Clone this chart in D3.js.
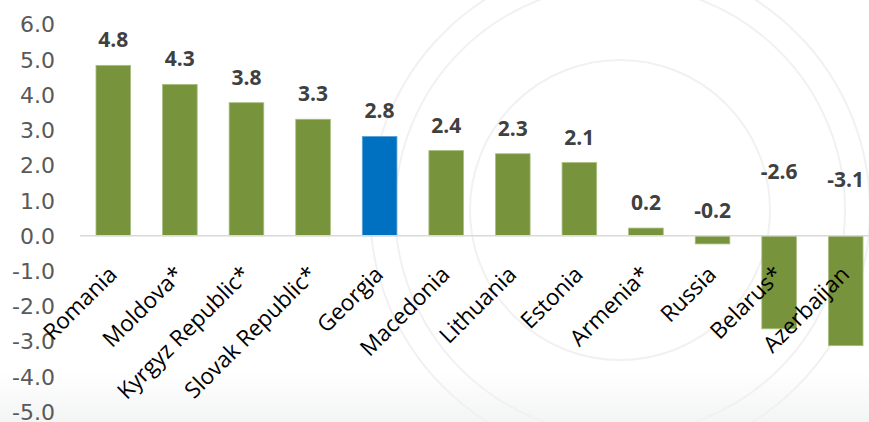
<!DOCTYPE html>
<html>
<head>
<meta charset="utf-8">
<script src="https://cdn.jsdelivr.net/npm/d3@7"></script>
<style>
  html, body { margin: 0; padding: 0; background: #ffffff; }
  svg { display: block; }
</style>
</head>
<body>
<svg id="chart" width="869" height="422"></svg>
<script>
// ---- data ----
const categories = ["Romania", "Moldova*", "Kyrgyz Republic*", "Slovak Republic*", "Georgia", "Macedonia", "Lithuania", "Estonia", "Armenia*", "Russia", "Belarus*", "Azerbaijan"];
const values = [4.84, 4.3, 3.78, 3.31, 2.82, 2.42, 2.33, 2.08, 0.22, -0.23, -2.64, -3.12];
const valueLabels = ["4.8", "4.3", "3.8", "3.3", "2.8", "2.4", "2.3", "2.1", "0.2", "-0.2", "-2.6", "-3.1"];
const highlight = "Georgia";
const yTicks = [6, 5, 4, 3, 2, 1, 0, -1, -2, -3, -4, -5];

// ---- layout / style ----
const W = 869, H = 422;
const plot = { left: 80, right: 879, top: 24.5, bottom: 411.9 };
const green = "#77933C", blue = "#0070C0";
// manual vertical nudges for the negative value labels (as in the original)
const negLabelShift = { "Belarus*": -39, "Azerbaijan": -31 };

const svg = d3.select("#chart");

// background with faint bottom shading
const defs = svg.append("defs");
const grad = defs.append("linearGradient").attr("id", "bg").attr("x1", 0).attr("y1", 0).attr("x2", 0).attr("y2", 1);
grad.append("stop").attr("offset", "0.88").attr("stop-color", "#ffffff");
grad.append("stop").attr("offset", "1").attr("stop-color", "#f3f4f4");
svg.append("rect").attr("width", W).attr("height", H).attr("fill", "url(#bg)");

// faint watermark seal
const wm = svg.append("g").attr("fill", "none").attr("stroke", "#f1f1f1").attr("stroke-width", 2);
[250, 225, 150].forEach(r => wm.append("circle").attr("cx", 620).attr("cy", 210).attr("r", r));

const x = d3.scaleBand().domain(categories).range([plot.left, plot.right]).paddingInner(0.48).paddingOuter(0.24);
const y = d3.scaleLinear().domain([-5, 6]).range([plot.bottom, plot.top]);

// y axis
const yAxis = d3.axisLeft(y).tickValues(yTicks).tickFormat(d3.format(".1f")).tickSize(0).tickPadding(0);
const ya = svg.append("g").attr("transform", "translate(55,0)").call(yAxis);
ya.select(".domain").remove();
ya.selectAll("text")
  .attr("fill", "#595959")
  .style("font-family", "'DejaVu Sans', sans-serif")
  .style("font-size", "22px")
  .attr("dy", "0.34em")
  .text(d => d3.format(".1f")(d).replace("−", "-"));

// bars
svg.append("g").selectAll("rect").data(categories).join("rect")
  .attr("x", d => x(d))
  .attr("width", x.bandwidth())
  .attr("y", (d, i) => y(Math.max(0, values[i])))
  .attr("height", (d, i) => Math.abs(y(values[i]) - y(0)))
  .attr("fill", d => d === highlight ? blue : green)
  .attr("stroke", d => d === highlight ? "#5aa3d8" : "#a9bf7f")
  .attr("stroke-width", 0.8);

// zero line
svg.append("line")
  .attr("x1", plot.left).attr("x2", W)
  .attr("y1", y(0)).attr("y2", y(0))
  .attr("stroke", "#d9d9d9").attr("stroke-width", 1.5);

// value labels
svg.append("g").selectAll("text").data(categories).join("text")
  .attr("x", d => x(d) + x.bandwidth() / 2)
  .attr("y", (d, i) => y(Math.max(0, values[i])) - 18 + (negLabelShift[d] || 0))
  .attr("text-anchor", "middle")
  .attr("fill", "#404040")
  .style("font-family", "'Open Sans', sans-serif")
  .style("font-weight", "bold")
  .style("font-size", "21px")
  .text((d, i) => valueLabels[i]);

// category labels (rotated)
const xAxis = d3.axisBottom(x).tickSize(0).tickPadding(0);
const xa = svg.append("g").attr("transform", `translate(0,${y(0)})`).call(xAxis);
xa.select(".domain").remove();
xa.selectAll("text")
  .attr("fill", "#000000")
  .attr("text-anchor", "end")
  .attr("y", 0).attr("dy", 0)
  .attr("transform", "translate(5,40) rotate(-45)")
  .style("font-family", "'Open Sans', sans-serif")
  .style("font-size", "22.5px");
</script>
</body>
</html>
